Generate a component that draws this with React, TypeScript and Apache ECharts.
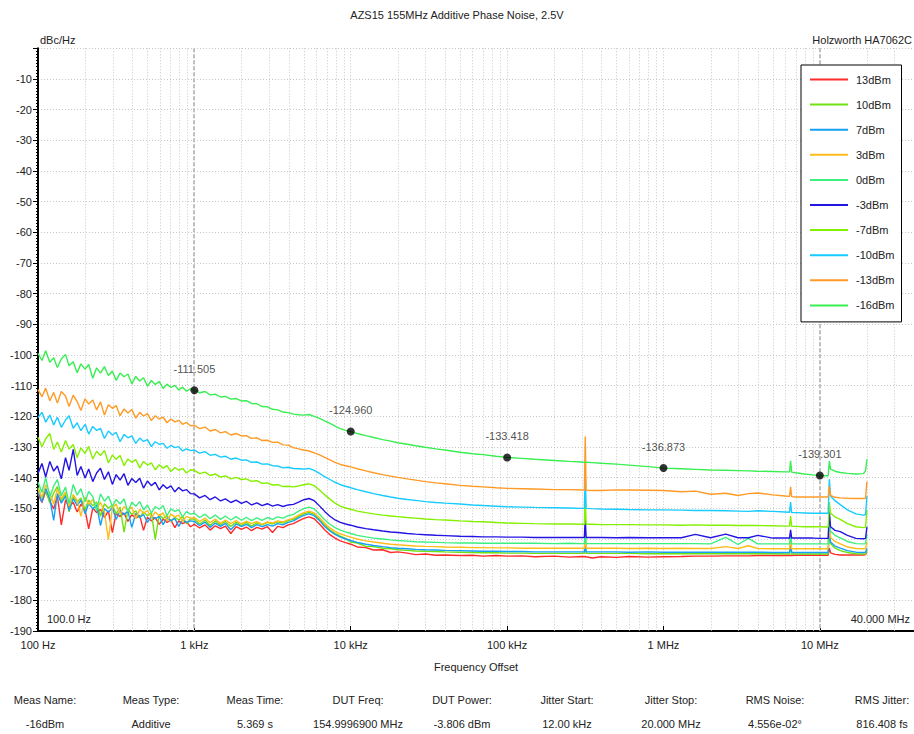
import { useEffect, useRef } from 'react';
import * as echarts from 'echarts';

// ---------- frequency grid (Hz) ----------
const FREQ_LOW = [
  100, 106, 112, 119, 126, 133, 141, 150, 158, 168,
  178, 188, 200, 211, 224, 237, 251, 266, 282, 299,
  316, 335, 355, 376, 398, 422, 447, 473, 501, 531,
  562, 596, 631, 668, 708, 750, 794, 841, 891, 944,
];
const FREQ_MID = [
  1000, 1080, 1170, 1260, 1360, 1470, 1580, 1710, 1850, 2000,
  2150, 2320, 2510, 2710, 2930, 3160, 3410, 3690, 3980, 4300,
  4640, 5010, 5410, 5840, 6310, 6810, 7360, 7940, 8580, 9260,
];
const FREQ_HIGH = [
  1e4, 1.1e4, 1.25e4, 1.4e4, 1.6e4, 1.8e4, 2e4, 2.3e4, 2.6e4, 3e4,
  3.5e4, 4e4, 5e4, 6e4, 7e4, 8.5e4, 1e5, 1.25e5, 1.5e5, 2e5,
  2.5e5, 3e5, 3.12e5, 3.16e5, 3.2e5, 3.5e5, 4e5, 5e5, 6e5, 8e5,
  1e6, 1.3e6, 1.6e6, 2e6, 2.5e6, 3e6, 3.5e6, 4e6, 5e6, 6e6,
  6.4e6, 6.5e6, 6.6e6, 7e6, 8e6, 9e6, 1e7, 1.1e7, 1.13e7, 1.15e7,
  1.17e7, 1.25e7, 1.35e7, 1.5e7, 1.7e7, 1.9e7, 1.96e7, 2e7,
];
const FREQ = [...FREQ_LOW, ...FREQ_MID, ...FREQ_HIGH];

// ---------- series values (dBc/Hz) ----------
const P13 = [
  -145.3, -148.1, -144.4, -147.6, -150.2, -146.0, -155.4, -147.3, -149.6, -148.0,
  -151.2, -148.7, -150.5, -156.7, -149.9, -151.4, -150.3, -153.0, -150.8, -157.9,
  -151.6, -152.7, -151.5, -154.3, -152.0, -153.2, -152.3, -157.2, -152.9, -154.1,
  -153.0, -155.2, -153.5, -154.6, -153.8, -156.3, -154.1, -155.0, -154.4, -156.0,
  -155.2, -156.4, -155.4, -157.1, -155.7, -156.6, -155.8, -158.2, -156.0, -156.9,
  -156.1, -157.3, -156.2, -156.8, -156.0, -157.9, -155.9, -156.3, -155.4, -155.0,
  -154.1, -153.3, -152.8, -153.4, -155.1, -157.0, -158.6, -159.7, -160.6, -161.2,
  -161.7, -162.6, -162.8, -163.6, -163.5, -164.4, -164.2, -164.6, -165.1, -164.9,
  -165.3, -165.2, -165.4, -165.3, -165.6, -165.4, -165.6, -165.5, -165.8, -165.6,
  -165.9, -165.7, -165.8, -165.7, -165.8, -166.2, -165.8, -166.0, -165.7, -165.9,
  -165.8, -165.7, -165.6, -165.6, -165.5, -165.5, -165.5, -165.4, -165.4, -165.4,
  -165.4, -165.3, -165.4, -165.3, -165.3, -165.3, -165.3, -165.3, -165.3, -163.0,
  -164.5, -165.0, -165.2, -165.2, -165.2, -165.2, -165.1, -164.0,
];
const P10 = [
  -143.2, -146.7, -144.1, -148.3, -145.0, -142.9, -147.5, -145.4, -151.1, -146.2,
  -148.0, -146.6, -150.4, -147.3, -149.2, -147.9, -152.6, -148.5, -150.0, -148.9,
  -151.8, -149.6, -157.8, -150.4, -152.0, -150.8, -153.1, -151.2, -152.4, -151.6,
  -160.1, -152.0, -153.3, -152.4, -154.2, -152.9, -153.8, -152.7, -155.0, -153.4,
  -153.6, -155.1, -153.9, -155.6, -154.1, -155.4, -154.3, -155.9, -154.5, -155.6,
  -154.6, -155.8, -154.7, -155.4, -154.6, -155.1, -154.4, -154.8, -154.0, -153.6,
  -152.6, -151.8, -151.3, -151.9, -153.6, -155.4, -157.0, -158.2, -159.1, -159.8,
  -161.0, -161.3, -162.4, -162.5, -163.0, -163.2, -163.5, -163.7, -163.9, -164.0,
  -164.1, -164.2, -164.3, -164.4, -164.5, -164.5, -164.6, -164.6, -164.7, -164.7,
  -164.7, -164.7, -164.7, -161.0, -164.7, -164.7, -164.7, -164.7, -164.7, -164.8,
  -164.8, -164.8, -164.8, -164.8, -164.8, -164.8, -164.8, -164.8, -164.8, -164.9,
  -164.9, -162.0, -164.9, -164.9, -164.9, -164.9, -164.9, -164.9, -164.9, -157.0,
  -161.5, -163.0, -163.8, -164.4, -164.8, -164.9, -164.8, -163.5,
];
const P7 = [
  -144.6, -147.9, -143.5, -146.8, -153.9, -145.2, -148.3, -146.0, -150.7, -146.8,
  -149.1, -147.3, -151.8, -148.4, -150.2, -148.9, -155.6, -150.1, -151.3, -149.7,
  -153.6, -150.8, -152.1, -150.9, -156.2, -151.7, -153.0, -152.0, -154.6, -152.5,
  -153.4, -152.6, -155.3, -153.1, -154.0, -153.3, -155.9, -153.8, -154.6, -154.1,
  -154.3, -155.6, -154.5, -156.2, -154.8, -155.9, -154.9, -157.0, -155.1, -156.0,
  -155.2, -156.3, -155.3, -156.0, -155.3, -155.8, -155.0, -155.4, -154.6, -154.1,
  -153.1, -152.3, -151.8, -152.4, -154.0, -155.9, -157.4, -158.5, -159.4, -160.0,
  -160.5, -161.1, -161.7, -162.1, -162.5, -162.8, -163.0, -163.2, -163.4, -163.5,
  -163.6, -163.7, -163.8, -163.9, -164.0, -164.0, -164.1, -164.1, -164.2, -164.2,
  -164.2, -164.2, -164.2, -160.0, -164.2, -164.2, -164.2, -164.2, -164.3, -164.2,
  -164.3, -164.3, -164.3, -164.3, -164.3, -164.3, -164.3, -164.3, -164.4, -164.4,
  -164.4, -161.0, -164.4, -164.4, -164.4, -164.4, -164.4, -164.4, -164.4, -156.0,
  -161.0, -162.3, -163.0, -163.8, -164.3, -164.4, -164.3, -163.0,
];
const P3 = [
  -143.8, -146.5, -142.3, -145.1, -148.6, -143.7, -146.9, -144.6, -149.3, -145.5,
  -147.4, -152.6, -146.3, -148.7, -147.1, -150.3, -148.0, -151.2, -160.2, -149.8,
  -148.6, -151.9, -149.4, -150.7, -149.6, -153.4, -150.3, -151.6, -150.7, -153.0,
  -151.2, -152.4, -151.5, -154.1, -151.9, -152.8, -152.2, -154.3, -152.6, -153.2,
  -153.0, -154.3, -153.2, -154.7, -153.5, -154.9, -153.8, -155.0, -154.0, -155.1,
  -154.2, -155.0, -154.3, -155.2, -154.4, -154.8, -154.1, -154.4, -153.7, -153.2,
  -152.2, -151.4, -150.9, -151.5, -153.1, -154.9, -156.4, -157.5, -158.3, -158.9,
  -159.4, -160.0, -160.6, -161.0, -161.4, -161.7, -161.9, -162.1, -162.3, -162.4,
  -162.5, -162.6, -162.7, -162.8, -162.8, -162.9, -162.9, -163.0, -163.0, -163.0,
  -163.0, -163.0, -163.0, -158.0, -163.0, -163.0, -163.0, -163.0, -163.1, -163.0,
  -163.1, -163.0, -163.1, -163.1, -162.5, -163.1, -162.2, -163.1, -163.2, -163.2,
  -163.2, -160.0, -163.2, -163.2, -163.2, -163.2, -163.2, -163.2, -163.2, -154.5,
  -159.5, -160.8, -161.6, -162.6, -163.1, -163.2, -163.1, -161.0,
];
const P0 = [
  -141.5, -144.8, -139.9, -146.3, -142.7, -140.6, -145.9, -143.1, -148.4, -142.2,
  -145.7, -143.6, -147.9, -144.5, -146.2, -150.8, -145.3, -147.7, -146.0, -149.4,
  -147.1, -148.6, -146.9, -151.2, -148.0, -149.3, -147.8, -150.5, -148.9, -151.6,
  -149.4, -150.3, -149.1, -152.4, -150.2, -151.0, -150.4, -152.8, -151.1, -151.9,
  -151.6, -153.0, -151.9, -153.4, -152.2, -153.6, -152.5, -153.8, -152.7, -153.9,
  -152.9, -154.0, -153.1, -153.9, -153.0, -153.6, -152.8, -153.2, -152.4, -152.0,
  -150.9, -150.1, -149.6, -150.2, -151.9, -153.7, -155.2, -156.3, -157.1, -157.7,
  -158.2, -158.8, -159.3, -159.7, -160.0, -160.3, -160.5, -160.7, -160.9, -161.0,
  -161.1, -161.2, -161.3, -161.3, -161.4, -161.4, -161.4, -161.4, -161.4, -161.5,
  -161.4, -161.5, -161.5, -156.5, -161.5, -161.5, -161.5, -161.5, -161.5, -161.5,
  -161.5, -161.5, -161.5, -161.6, -159.5, -161.8, -159.8, -161.6, -161.6, -161.6,
  -161.6, -158.5, -161.6, -161.6, -161.6, -161.6, -161.6, -161.6, -161.6, -152.5,
  -157.5, -158.8, -159.6, -160.8, -161.5, -161.6, -161.5, -158.5,
];
const N3 = [
  -138.6, -135.4, -139.8, -134.7, -137.9, -136.2, -140.4, -133.5, -137.6, -130.8,
  -139.3, -136.4, -140.1, -137.2, -141.3, -138.5, -136.9, -140.6, -138.1, -142.2,
  -139.0, -140.8, -138.7, -142.5, -140.3, -141.6, -140.2, -143.4, -141.1, -142.6,
  -141.5, -144.0, -142.3, -143.5, -142.7, -144.6, -143.2, -144.3, -143.9, -145.2,
  -145.3, -146.6, -145.8, -147.2, -146.3, -147.6, -146.9, -148.1, -147.3, -148.4,
  -147.7, -148.9, -148.2, -149.1, -148.5, -149.3, -148.8, -149.4, -148.9, -148.7,
  -148.0, -147.2, -146.8, -147.5, -149.2, -151.0, -152.6, -153.8, -154.6, -155.1,
  -155.5, -156.1, -156.6, -157.0, -157.4, -157.7, -157.9, -158.2, -158.4, -158.6,
  -158.8, -158.9, -159.1, -159.2, -159.3, -159.3, -159.4, -159.4, -159.5, -159.5,
  -159.5, -159.5, -159.5, -153.0, -159.5, -159.5, -159.5, -159.6, -159.5, -159.6,
  -159.6, -159.6, -158.5, -159.6, -158.4, -159.6, -159.6, -158.8, -159.7, -159.7,
  -159.7, -157.0, -159.7, -159.7, -159.7, -159.7, -159.8, -159.8, -159.8, -151.0,
  -156.0, -157.2, -157.6, -158.8, -159.8, -159.9, -159.8, -156.0,
];
const N7 = [
  -126.8, -129.9, -127.3, -125.6, -130.8, -128.4, -131.6, -127.9, -130.7, -129.2,
  -133.5, -130.3, -132.1, -129.8, -133.9, -131.4, -132.8, -131.1, -135.2, -132.6,
  -134.0, -132.8, -136.1, -133.9, -135.0, -134.1, -136.8, -134.7, -135.9, -135.2,
  -137.4, -135.8, -136.9, -136.1, -138.0, -136.7, -137.6, -137.0, -138.5, -137.4,
  -137.6, -138.7, -138.2, -139.3, -138.8, -139.8, -139.4, -140.4, -139.9, -140.6,
  -140.4, -141.2, -141.0, -141.9, -141.7, -142.4, -142.3, -142.9, -142.8, -143.0,
  -142.7, -142.3, -142.0, -142.6, -144.0, -145.6, -147.0, -148.3, -149.3, -149.9,
  -150.3, -150.9, -151.4, -151.8, -152.2, -152.5, -152.7, -153.0, -153.2, -153.5,
  -153.7, -153.8, -154.1, -154.3, -154.4, -154.6, -154.8, -154.9, -155.0, -155.1,
  -155.1, -155.2, -155.2, -145.0, -155.2, -155.2, -155.3, -155.3, -155.3, -155.4,
  -155.4, -155.5, -155.4, -155.5, -155.5, -155.6, -155.6, -155.6, -155.7, -155.8,
  -155.8, -152.5, -155.9, -155.9, -156.0, -156.0, -156.0, -156.1, -156.1, -148.0,
  -151.5, -152.8, -153.6, -155.0, -156.0, -156.3, -156.2, -150.5,
];
const N10 = [
  -120.4, -118.7, -121.9, -119.6, -122.8, -120.3, -123.6, -121.2, -119.8, -123.9,
  -122.1, -124.7, -122.6, -125.8, -123.3, -124.6, -123.9, -127.2, -124.8, -126.1,
  -125.2, -128.3, -125.9, -127.0, -126.4, -128.8, -127.1, -128.2, -127.6, -129.9,
  -128.3, -129.1, -128.8, -130.4, -129.5, -130.2, -129.9, -131.3, -130.6, -131.2,
  -131.0, -132.0, -131.5, -132.7, -132.4, -133.3, -133.0, -134.0, -133.6, -134.3,
  -134.2, -135.0, -134.9, -135.6, -135.5, -136.1, -136.2, -136.8, -136.6, -137.0,
  -137.1, -137.2, -137.0, -137.6, -138.6, -139.7, -140.6, -141.5, -142.3, -142.8,
  -143.3, -143.9, -144.6, -145.2, -145.8, -146.3, -146.7, -147.1, -147.4, -147.8,
  -148.1, -148.3, -148.6, -148.9, -149.1, -149.3, -149.5, -149.6, -149.7, -149.8,
  -149.9, -150.0, -150.0, -139.0, -150.0, -150.1, -150.2, -150.3, -150.4, -150.5,
  -150.5, -150.6, -150.7, -150.7, -150.8, -150.9, -151.0, -150.8, -151.0, -151.2,
  -151.3, -148.0, -151.4, -151.4, -151.5, -151.6, -151.6, -151.6, -151.6, -140.5,
  -146.0, -147.5, -148.8, -150.5, -151.8, -152.2, -152.0, -146.0,
];
const N13 = [
  -111.3, -113.6, -110.8, -114.9, -112.2, -115.7, -111.9, -113.4, -116.8, -113.1,
  -115.2, -118.1, -114.3, -116.0, -114.7, -117.9, -115.3, -119.6, -116.2, -117.4,
  -116.5, -119.8, -117.6, -118.9, -117.8, -120.6, -118.7, -119.9, -119.1, -121.4,
  -119.8, -120.9, -120.3, -122.1, -120.9, -121.8, -121.3, -122.6, -122.0, -123.1,
  -122.9, -124.0, -123.5, -124.8, -124.3, -125.4, -125.0, -126.1, -125.6, -126.4,
  -126.3, -127.2, -127.0, -127.9, -127.8, -128.5, -128.4, -129.3, -129.4, -130.2,
  -130.6, -131.0, -131.3, -131.9, -132.6, -133.4, -134.2, -135.0, -135.7, -136.1,
  -136.5, -137.1, -137.8, -138.4, -139.0, -139.5, -139.9, -140.4, -140.8, -141.3,
  -141.7, -142.0, -142.5, -142.8, -143.0, -143.3, -143.5, -143.6, -143.7, -143.9,
  -143.9, -144.0, -144.0, -126.6, -144.1, -144.2, -144.2, -144.0, -144.0, -144.1,
  -144.2, -144.6, -144.4, -145.4, -145.1, -145.8, -145.2, -145.0, -145.6, -146.0,
  -146.1, -143.0, -146.2, -146.3, -146.3, -146.3, -146.3, -146.3, -146.3, -142.8,
  -145.8, -146.4, -146.6, -146.7, -146.8, -146.8, -146.7, -141.3,
];
const N16 = [
  -99.5, -101.8, -98.6, -102.4, -100.9, -104.1, -101.3, -99.8, -103.5, -102.2,
  -105.8, -102.9, -104.6, -103.1, -107.6, -104.2, -105.9, -103.8, -106.7, -105.2,
  -108.3, -105.9, -107.1, -106.2, -109.4, -107.0, -108.5, -107.4, -110.2, -108.3,
  -109.6, -108.7, -110.9, -109.5, -110.6, -109.9, -111.4, -110.5, -111.8, -111.0,
  -111.5, -112.3, -111.9, -113.0, -112.8, -113.7, -113.5, -114.4, -114.2, -115.0,
  -114.9, -115.8, -115.9, -116.8, -116.9, -117.7, -117.9, -118.6, -118.8, -119.3,
  -119.5, -119.6, -119.4, -120.0, -120.7, -121.5, -122.3, -123.2, -124.0, -124.6,
  -125.0, -125.6, -126.3, -126.9, -127.6, -128.1, -128.6, -129.1, -129.6, -130.1,
  -130.6, -131.0, -131.7, -132.2, -132.5, -133.0, -133.4, -133.7, -134.0, -134.4,
  -134.7, -134.9, -135.0, -135.0, -135.0, -135.1, -135.3, -135.6, -135.9, -136.4,
  -136.9, -137.1, -137.3, -137.5, -137.6, -137.7, -137.8, -137.9, -138.0, -138.1,
  -138.1, -134.5, -138.2, -138.4, -138.8, -139.1, -139.3, -139.4, -139.4, -134.6,
  -137.2, -137.9, -138.3, -138.6, -138.8, -138.7, -137.8, -134.0,
];

const SERIES_NAMES = ['13dBm', '10dBm', '7dBm', '3dBm', '0dBm', '-3dBm', '-7dBm', '-10dBm', '-13dBm', '-16dBm'];
const SERIES_VALUES = [P13, P10, P7, P3, P0, N3, N7, N10, N13, N16];
const SERIES_COLORS = ['#ff2a2a', '#6fe010', '#14a0f5', '#ffbc1c', '#3cf07e', '#2414e4', '#84f000', '#18cbff', '#ff9a26', '#38ee50'];

const MARKER_FREQ = [1e3, 1e4, 1e5, 1e6, 1e7];
const MARKER_VALUES = [-111.505, -124.96, -133.418, -136.873, -139.301];

const X_TICK_LABELS: Record<number, string> = {
  100: '100 Hz', 1000: '1 kHz', 10000: '10 kHz', 100000: '100 kHz', 1000000: '1 MHz', 10000000: '10 MHz',
};
const X_MIN = 100;
const X_MAX = 4e7;
const Y_MIN = -190;
const Y_MAX = 0;
const Y_STEP = 10;
const HIGHLIGHT_FREQ = [1e3, 1e7];

const TABLE_HEADERS = ['Meas Name:', 'Meas Type:', 'Meas Time:', 'DUT Freq:', 'DUT Power:', 'Jitter Start:', 'Jitter Stop:', 'RMS Noise:', 'RMS Jitter:'];
const TABLE_VALUES = ['-16dBm', 'Additive', '5.369 s', '154.9996900 MHz', '-3.806 dBm', '12.00 kHz', '20.000 MHz', '4.556e-02°', '816.408 fs'];
const TABLE_X = [45, 151, 255, 358, 462, 567, 671, 775, 882];

const FONT = '"Liberation Sans", Arial, sans-serif';

function minorGridFreqs(): number[] {
  const out: number[] = [];
  for (let d = 100; d < X_MAX; d *= 10) {
    for (let k = 2; k <= 9; k++) {
      const f = k * d;
      if (f < X_MAX) out.push(f);
    }
  }
  return out;
}

function vLineRenderer(color: string, width: number, dash: number[]) {
  return (params: any, api: any) => {
    const cs = params.coordSys;
    const x = Math.round(api.coord([api.value(0), Y_MIN])[0]) + (width % 2 === 1 ? 0.5 : 0);
    return {
      type: 'line',
      shape: { x1: x, y1: cs.y, x2: x, y2: cs.y + cs.height },
      style: { stroke: color, lineWidth: width, lineDash: dash },
      silent: true,
    };
  };
}

export default function App() {
  const ref = useRef<HTMLDivElement>(null);

  useEffect(() => {
    document.body.style.margin = '0';
    if (!ref.current) return;
    const chart = echarts.init(ref.current, null, { renderer: 'svg' });

    const lineSeries = SERIES_NAMES.map((name, si) => ({
      name,
      type: 'line',
      data: FREQ.map((f, i) => [f, SERIES_VALUES[si][i]]),
      showSymbol: false,
      symbol: 'none',
      lineStyle: { width: 1.4, color: SERIES_COLORS[si] },
      itemStyle: { color: SERIES_COLORS[si] },
      z: 3,
      silent: true,
    }));

    const graphicTexts: any[] = [
      { type: 'text', left: 40, top: 34, style: { text: 'dBc/Hz', font: `11px ${FONT}`, fill: '#222' } },
      { type: 'text', right: 2, top: 34, style: { text: 'Holzworth HA7062C', font: `11px ${FONT}`, fill: '#222' } },
      { type: 'text', left: 47, top: 613, style: { text: '100.0 Hz', font: `11px ${FONT}`, fill: '#222' } },
      { type: 'text', right: 4, top: 613, style: { text: '40.000 MHz', font: `11px ${FONT}`, fill: '#222' } },
    ];
    TABLE_HEADERS.forEach((t, i) => {
      graphicTexts.push({
        type: 'text', x: TABLE_X[i], y: 700,
        style: { text: t, font: `11px ${FONT}`, fill: '#222', textAlign: 'center', textVerticalAlign: 'middle' },
      });
      graphicTexts.push({
        type: 'text', x: TABLE_X[i], y: 724,
        style: { text: TABLE_VALUES[i], font: `11px ${FONT}`, fill: '#222', textAlign: 'center', textVerticalAlign: 'middle' },
      });
    });

    chart.setOption({
      animation: false,
      backgroundColor: '#ffffff',
      title: {
        text: 'AZS15 155MHz Additive Phase Noise, 2.5V',
        left: 'center',
        top: 4,
        textStyle: { fontSize: 11, fontWeight: 'normal', color: '#222', fontFamily: FONT },
      },
      grid: { left: 38, top: 48.3, width: 878.4, height: 582.7, containLabel: false },
      legend: {
        data: SERIES_NAMES,
        orient: 'vertical',
        left: 801,
        top: 65,
        padding: [9, 7, 11, 9],
        itemGap: 14.1,
        itemWidth: 38,
        itemHeight: 14,
        icon: 'path://M0,0 L38,0 L38,2 L0,2 Z',
        backgroundColor: '#ffffff',
        borderColor: '#000000',
        borderWidth: 1,
        selectedMode: false,
        textStyle: { fontSize: 11, color: '#222', fontFamily: FONT, padding: [0, 0, 0, 3] },
      },
      xAxis: {
        type: 'log',
        logBase: 10,
        min: X_MIN,
        max: X_MAX,
        name: 'Frequency Offset',
        nameLocation: 'middle',
        nameGap: 30,
        nameTextStyle: { fontSize: 11, color: '#222', fontFamily: FONT },
        axisLine: { show: true, onZero: false, lineStyle: { color: '#000', width: 2 } },
        axisTick: { show: true, inside: true, length: 5, lineStyle: { color: '#000' } },
        axisLabel: {
          show: true, margin: 8, fontSize: 11, color: '#222', fontFamily: FONT,
          showMaxLabel: false,
          formatter: (v: number) => X_TICK_LABELS[Math.round(v)] ?? '',
        },
        splitLine: { show: true, lineStyle: { color: '#c8c8c8', width: 1, type: [1, 2] } },
      },
      yAxis: {
        type: 'value',
        min: Y_MIN,
        max: Y_MAX,
        interval: Y_STEP,
        axisLine: { show: true, onZero: false, lineStyle: { color: '#000', width: 2 } },
        axisTick: { show: true, length: 5, lineStyle: { color: '#000' } },
        minorTick: { show: true, splitNumber: 10, length: 2, lineStyle: { color: '#000' } },
        axisLabel: {
          margin: 6, fontSize: 11, color: '#222', fontFamily: FONT,
          formatter: (v: number) => (v === 0 ? '' : String(v)),
        },
        splitLine: { show: true, lineStyle: { color: '#c8c8c8', width: 1, type: [1, 2] } },
      },
      graphic: graphicTexts,
      series: [
        {
          type: 'custom',
          name: 'minorGrid',
          silent: true,
          z: 1,
          data: minorGridFreqs().map((f) => [f, Y_MIN]),
          encode: { x: 0, y: 1 },
          renderItem: vLineRenderer('#c8c8c8', 1, [1, 2]),
        },
        {
          type: 'custom',
          name: 'highlightGrid',
          silent: true,
          z: 2,
          data: HIGHLIGHT_FREQ.map((f) => [f, Y_MIN]),
          encode: { x: 0, y: 1 },
          renderItem: vLineRenderer('#c0c0c0', 2, [4, 2]),
        },
        ...lineSeries,
        {
          type: 'scatter',
          name: 'markers',
          data: MARKER_FREQ.map((f, i) => [f, MARKER_VALUES[i]]),
          symbol: 'circle',
          symbolSize: 8,
          itemStyle: { color: '#000' },
          z: 5,
          silent: true,
          label: {
            show: true,
            position: 'top',
            distance: 12,
            fontSize: 11,
            color: '#222',
            fontFamily: FONT,
            formatter: (p: any) => p.value[1].toFixed(3),
          },
        },
      ],
    });

    return () => chart.dispose();
  }, []);

  return <div ref={ref} style={{ width: 914, height: 734 }} />;
}
